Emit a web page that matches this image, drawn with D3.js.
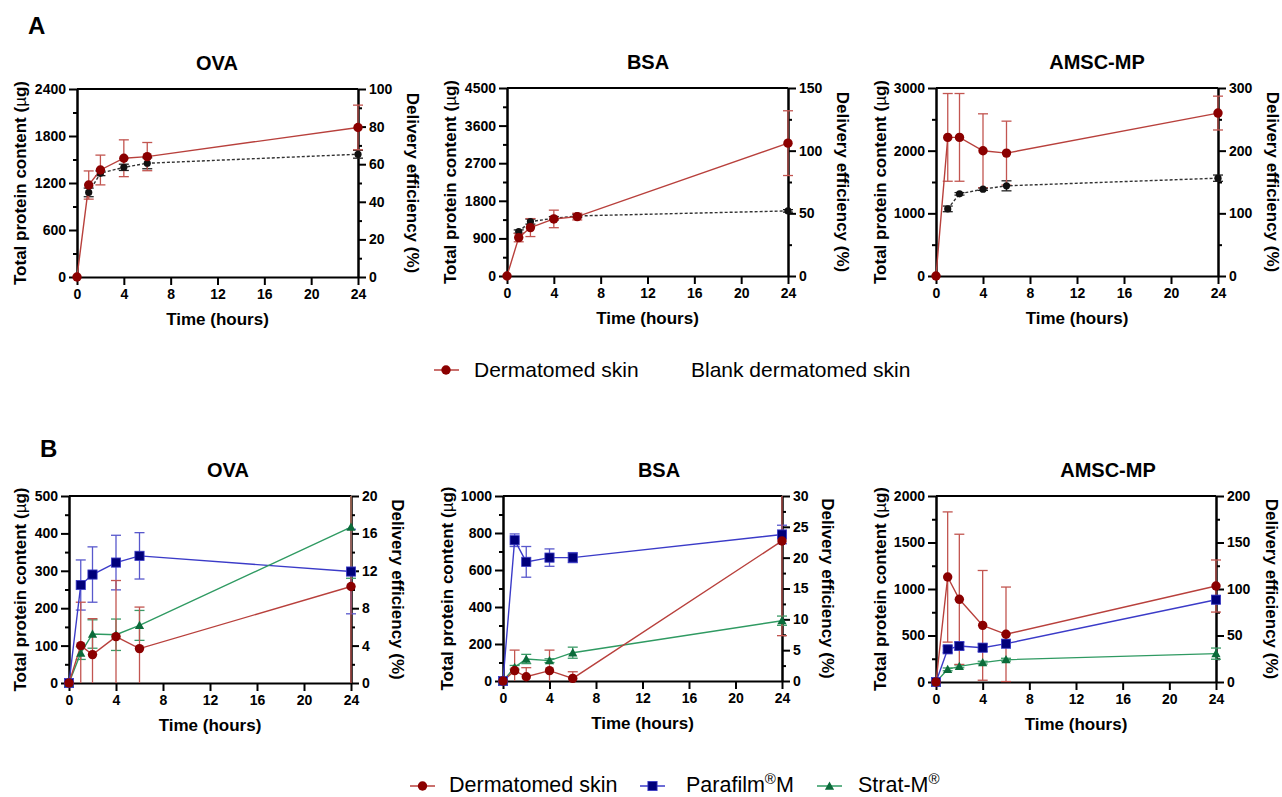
<!DOCTYPE html>
<html>
<head>
<meta charset="utf-8">
<script src="https://cdn.jsdelivr.net/npm/d3@7"></script>
<style>
  body { margin: 0; background: #fff; }
  svg text { font-family: "Liberation Sans", Arial, sans-serif; }
</style>
</head>
<body>
<div id="chart"></div>
<script>
// sampling times (hours)
const times = [0, 1, 2, 4, 6, 24];
const timeTicks = [0, 4, 8, 12, 16, 20, 24];

// panel A: dermatomed skin vs blank skin (µg)
const aOvaSkin = [0, 1174, 1366, 1516, 1537, 1909];
const aOvaSkinErr = [0, 180, 190, 235, 180, 285];
const aOvaBlank = [null, 1080, 1324, 1400, 1452, 1567];
const aOvaBlankErr = [0, 55, 30, 40, 70, 50];

const aBsaSkin = [0, 919, 1159, 1366, 1422, 3180];
const aBsaSkinErr = [0, 100, 215, 210, 80, 775];
const aBsaBlank = [null, 1063, 1302, 1382, 1438, 1558];
const aBsaBlankErr = [0, 40, 60, 40, 40, 30];

const aAmscSkin = [0, 2212, 2212, 1998, 1961, 2600];
const aAmscSkinErr = [0, 700, 700, 590, 510, 270];
const aAmscBlank = [null, 1071, 1311, 1386, 1439, 1561];
const aAmscBlankErr = [0, 45, 20, 20, 80, 50];

// panel B: skin vs Parafilm M vs Strat-M (µg)
const bOvaSkin = [0, 100, 76, 124, 92, 258];
const bOvaSkinErr = [0, 116, 96, 150, 111, 300];
const bOvaParafilm = [0, 262, 290, 322, 340, 298];
const bOvaParafilmErr = [0, 67, 74, 73, 62, 113];
const bOvaStrat = [0, 80, 131, 129, 154, 417];
const bOvaStratErr = [0, 17, 38, 42, 40, 137];

const bBsaSkin = [0, 56, 23, 56, 14, 757];
const bBsaSkinErr = [0, 111, 49, 111, 36, 512];
const bBsaParafilm = [0, 761, 644, 667, 667, 792];
const bBsaParafilmErr = [0, 34, 83, 47, 27, 50];
const bBsaStrat = [0, 74, 119, 110, 153, 326];
const bBsaStratErr = [0, 10, 25, 10, 30, 25];

const bAmscSkin = [0, 1129, 889, 609, 513, 1032];
const bAmscSkinErr = [0, 700, 700, 590, 508, 280];
const bAmscParafilm = [0, 351, 387, 369, 412, 885];
const bAmscParafilmErr = [0, 35, 40, 40, 25, 40];
const bAmscStrat = [0, 136, 168, 208, 240, 305];
const bAmscStratErr = [0, 15, 15, 15, 15, 60];

// axis tick labels
const aOvaLeft = [0, 600, 1200, 1800, 2400];
const aOvaRight = [0, 20, 40, 60, 80, 100];
const aBsaLeft = [0, 900, 1800, 2700, 3600, 4500];
const aBsaRight = [0, 50, 100, 150];
const aAmscLeft = [0, 1000, 2000, 3000];
const aAmscRight = [0, 100, 200, 300];
const bOvaLeft = [0, 100, 200, 300, 400, 500];
const bOvaRight = [0, 4, 8, 12, 16, 20];
const bBsaLeft = [0, 200, 400, 600, 800, 1000];
const bBsaRight = [0, 5, 10, 15, 20, 25, 30];
const bAmscLeft = [0, 500, 1000, 1500, 2000];
const bAmscRight = [0, 50, 100, 150, 200];

const skin = {line: "#b8403c", err: "#c25550", fill: "#8b0000", shape: "circle", r: 4.7};
const blank = {line: "#333", err: "#222", fill: "#111", shape: "circle", r: 3.6, dash: "3,2"};
const para = {line: "#3b3bc8", err: "#5858cc", fill: "#00007a", shape: "square", r: 4.6};
const strat = {line: "#2f9a62", err: "#3a9a66", fill: "#0b6b3a", shape: "triangle", r: 4.6};

const panels = [
  {title: "OVA", tx: 217, x0: 77, x1: 358, yb: 277, yt: 89, lx: 20, rx: 413, left: aOvaLeft, right: aOvaRight,
   series: [[blank, aOvaBlank, aOvaBlankErr], [skin, aOvaSkin, aOvaSkinErr]]},
  {title: "BSA", tx: 648, x0: 507, x1: 788, yb: 276, yt: 88, lx: 450, rx: 843, left: aBsaLeft, right: aBsaRight,
   series: [[blank, aBsaBlank, aBsaBlankErr], [skin, aBsaSkin, aBsaSkinErr]]},
  {title: "AMSC-MP", tx: 1097, x0: 936, x1: 1218, yb: 276, yt: 88, lx: 880, rx: 1273, left: aAmscLeft, right: aAmscRight,
   series: [[blank, aAmscBlank, aAmscBlankErr], [skin, aAmscSkin, aAmscSkinErr]]},
  {title: "OVA", tx: 228, x0: 69, x1: 351, yb: 683, yt: 496, lx: 20, rx: 398, left: bOvaLeft, right: bOvaRight,
   series: [[para, bOvaParafilm, bOvaParafilmErr], [strat, bOvaStrat, bOvaStratErr], [skin, bOvaSkin, bOvaSkinErr]]},
  {title: "BSA", tx: 659, x0: 503, x1: 782, yb: 681, yt: 496, lx: 447, rx: 828, left: bBsaLeft, right: bBsaRight,
   series: [[para, bBsaParafilm, bBsaParafilmErr], [strat, bBsaStrat, bBsaStratErr], [skin, bBsaSkin, bBsaSkinErr]]},
  {title: "AMSC-MP", tx: 1108, x0: 936, x1: 1216, yb: 682, yt: 496, lx: 880, rx: 1272, left: bAmscLeft, right: bAmscRight,
   series: [[para, bAmscParafilm, bAmscParafilmErr], [strat, bAmscStrat, bAmscStratErr], [skin, bAmscSkin, bAmscSkinErr]]}
];

const svg = d3.select("#chart").append("svg")
  .attr("width", 1282).attr("height", 797);

svg.append("text").attr("x", 28).attr("y", 34).attr("font-size", 24).attr("font-weight", "bold").text("A");
svg.append("text").attr("x", 40).attr("y", 457).attr("font-size", 24).attr("font-weight", "bold").text("B");

function midpoints(arr) {
  const out = [];
  for (let i = 0; i < arr.length - 1; i++) out.push((arr[i] + arr[i + 1]) / 2);
  return out;
}

function marker(g, s, x, y) {
  if (s.shape === "circle") {
    g.append("circle").attr("cx", x).attr("cy", y).attr("r", s.r).attr("fill", s.fill);
  } else if (s.shape === "square") {
    g.append("rect").attr("x", x - s.r).attr("y", y - s.r).attr("width", s.r * 2).attr("height", s.r * 2)
      .attr("fill", s.fill).attr("stroke", "#3b3bc8").attr("stroke-width", 0.8);
  } else {
    const h = s.r;
    g.append("path").attr("d", `M${x},${y - h}L${x + h},${y + h * 0.8}L${x - h},${y + h * 0.8}Z`).attr("fill", s.fill);
  }
}

panels.forEach(p => {
  const g = svg.append("g");
  const leftMax = p.left[p.left.length - 1];
  const rightMax = p.right[p.right.length - 1];
  const x = d3.scaleLinear().domain([0, 24]).range([p.x0, p.x1]);
  const y = d3.scaleLinear().domain([0, leftMax]).range([p.yb, p.yt]);
  const yr = d3.scaleLinear().domain([0, rightMax]).range([p.yb, p.yt]);

  // top frame line
  g.append("line").attr("x1", p.x0).attr("x2", p.x1).attr("y1", p.yt).attr("y2", p.yt)
    .attr("stroke", "#000").attr("stroke-width", 2);

  const styleAxis = sel => {
    sel.selectAll("path, line").attr("stroke", "#000").attr("stroke-width", 2);
    sel.selectAll("text").attr("font-size", 14).attr("font-weight", "bold").attr("fill", "#000")
      .style("font-family", '"Liberation Sans", Arial, sans-serif');
  };

  g.append("g").attr("transform", `translate(${p.x0},0)`)
    .call(d3.axisLeft(y).tickValues(midpoints(p.left)).tickSize(4).tickSizeOuter(0).tickFormat(""))
    .call(styleAxis);
  g.append("g").attr("transform", `translate(${p.x0},0)`)
    .call(d3.axisLeft(y).tickValues(p.left).tickSize(8).tickSizeOuter(0).tickPadding(3).tickFormat(d3.format("d")))
    .call(styleAxis);
  g.append("g").attr("transform", `translate(${p.x1},0)`)
    .call(d3.axisRight(yr).tickValues(midpoints(p.right)).tickSize(4).tickSizeOuter(0).tickFormat(""))
    .call(styleAxis);
  g.append("g").attr("transform", `translate(${p.x1},0)`)
    .call(d3.axisRight(yr).tickValues(p.right).tickSize(8).tickSizeOuter(0).tickPadding(3).tickFormat(d3.format("d")))
    .call(styleAxis);
  g.append("g").attr("transform", `translate(0,${p.yb})`)
    .call(d3.axisBottom(x).tickValues(timeTicks).tickSize(8).tickSizeOuter(0).tickPadding(4))
    .call(styleAxis);

  // titles and axis labels
  g.append("text").attr("x", p.tx).attr("y", p.yt - 19).attr("text-anchor", "middle")
    .attr("font-size", 20).attr("font-weight", "bold").text(p.title);
  g.append("text").attr("x", (p.x0 + p.x1) / 2).attr("y", p.yb + 48).attr("text-anchor", "middle")
    .attr("font-size", 17).attr("font-weight", "bold").text("Time (hours)");
  const ym = (p.yb + p.yt) / 2;
  const lt = g.append("text").attr("transform", `translate(${p.lx},${ym}) rotate(-90)`).attr("dy", "0.35em")
    .attr("text-anchor", "middle").attr("font-size", 17).attr("font-weight", "bold");
  lt.append("tspan").text("Total protein content (");
  lt.append("tspan").attr("font-weight", "normal").text("µ");
  lt.append("tspan").text("g)");
  g.append("text").attr("transform", `translate(${p.rx},${ym}) rotate(90)`).attr("dy", "0.35em")
    .attr("text-anchor", "middle").attr("font-size", 17).attr("font-weight", "bold").text("Delivery efficiency (%)");

  // error bars (clamped to plot area)
  p.series.forEach(([s, vals, errs]) => {
    times.forEach((t, i) => {
      if (vals[i] === null || !errs[i]) return;
      const hi = vals[i] + errs[i], lo = vals[i] - errs[i];
      const cx = x(t);
      g.append("line").attr("x1", cx).attr("x2", cx)
        .attr("y1", y(Math.min(hi, leftMax))).attr("y2", y(Math.max(lo, 0)))
        .attr("stroke", s.err).attr("stroke-width", 1.3);
      if (hi <= leftMax) g.append("line").attr("x1", cx - 5).attr("x2", cx + 5).attr("y1", y(hi)).attr("y2", y(hi))
        .attr("stroke", s.err).attr("stroke-width", 1.3);
      if (lo >= 0) g.append("line").attr("x1", cx - 5).attr("x2", cx + 5).attr("y1", y(lo)).attr("y2", y(lo))
        .attr("stroke", s.err).attr("stroke-width", 1.3);
    });
  });

  // lines then markers
  p.series.forEach(([s, vals]) => {
    const pts = times.map((t, i) => [t, vals[i]]).filter(d => d[1] !== null);
    g.append("path").datum(pts)
      .attr("d", d3.line().x(d => x(d[0])).y(d => y(d[1])))
      .attr("fill", "none").attr("stroke", s.line).attr("stroke-width", 1.4)
      .attr("stroke-dasharray", s.dash || null);
  });
  p.series.forEach(([s, vals]) => {
    times.forEach((t, i) => {
      if (vals[i] === null) return;
      marker(g, s, x(t), y(vals[i]));
    });
  });
});

// legend A
const la = svg.append("g");
la.append("line").attr("x1", 434).attr("x2", 459).attr("y1", 370).attr("y2", 370).attr("stroke", skin.line).attr("stroke-width", 1.5);
marker(la, skin, 446, 370);
la.append("text").attr("x", 474).attr("y", 377).attr("font-size", 21).text("Dermatomed skin");
la.append("text").attr("x", 691).attr("y", 377).attr("font-size", 21).text("Blank dermatomed skin");

// legend B
const lb = svg.append("g");
const legB = [
  [skin, 410, 449, ["Dermatomed skin"]],
  [para, 640, 686, ["Parafilm", "®", "M"]],
  [strat, 817, 858, ["Strat-M", "®"]]
];
legB.forEach(([s, mx, tx, parts]) => {
  lb.append("line").attr("x1", mx).attr("x2", mx + 25).attr("y1", 786).attr("y2", 786).attr("stroke", s.line).attr("stroke-width", 1.5);
  marker(lb, s, mx + 12.5, 786);
  const t = lb.append("text").attr("x", tx).attr("y", 792).attr("font-size", 21.5);
  parts.forEach(part => {
    if (part === "®") t.append("tspan").attr("dy", -8).attr("font-size", 15).text(part);
    else if (t.selectAll("tspan").size() > 0) t.append("tspan").attr("dy", 8).text(part);
    else t.append("tspan").text(part);
  });
});
</script>
</body>
</html>
